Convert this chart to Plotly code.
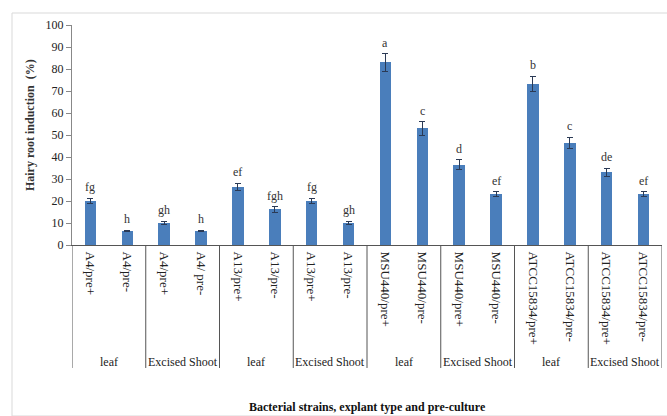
import plotly.graph_objects as go

# Treatments: strain / pre-culture, grouped by explant type
labels = ["A4/pre+", "A4/pre-", "A4/pre+", "A4/ pre-",
          "A13/pre+", "A13/pre-", "A13/pre+", "A13/pre-",
          "MSU440/pre+", "MSU440/pre-", "MSU440/pre+", "MSU440/pre-",
          "ATCC15834/pre+", "ATCC15834/pre-", "ATCC15834/pre+", "ATCC15834/pre-"]
explants = ["leaf", "Excised Shoot", "leaf", "Excised Shoot",
            "leaf", "Excised Shoot", "leaf", "Excised Shoot"]
induction = [20.0, 6.5, 10.0, 6.5, 26.5, 16.2, 20.0, 10.0,
             83.0, 53.0, 36.5, 23.2, 73.2, 46.5, 33.0, 23.2]
std_err = [1.2, 0.3, 0.8, 0.3, 1.5, 1.2, 1.2, 0.8,
           4.0, 3.0, 2.3, 1.0, 3.5, 2.5, 1.8, 1.0]
letters = ["fg", "h", "gh", "h", "ef", "fgh", "fg", "gh",
           "a", "c", "d", "ef", "b", "c", "de", "ef"]

x = list(range(len(labels)))
serif = "Liberation Serif, Times New Roman, serif"

fig = go.Figure(go.Bar(
    x=x, y=induction, width=0.31,
    marker=dict(color="#4a7ebb", line=dict(width=0)),
    error_y=dict(type="data", array=std_err, visible=True,
                 color="#2b3a55", thickness=1, width=3),
))

# significance letters above each bar
for xi, v, e, t in zip(x, induction, std_err, letters):
    fig.add_annotation(x=xi, y=v + e, text=t, showarrow=False,
                       yanchor="bottom", yshift=2,
                       font=dict(family=serif, size=12, color="#333333"))

# explant group dividers and labels under the tick labels
axis_bottom = -0.559
for k in range(len(explants) + 1):
    fig.add_shape(type="line", xref="x", yref="paper",
                  x0=-0.5 + 2 * k, x1=-0.5 + 2 * k, y0=0, y1=axis_bottom,
                  line=dict(color="#555555", width=1))
for k, name in enumerate(explants):
    fig.add_annotation(x=0.5 + 2 * k, y=axis_bottom, yref="paper",
                       text=name, showarrow=False, yanchor="bottom", yshift=-3,
                       font=dict(family=serif, size=12, color="#222222"))

# outer chart frame
fig.add_shape(type="rect", xref="paper", yref="paper",
              x0=-60 / 590, x1=1.03, y0=-171 / 220, y1=1.0545,
              line=dict(color="#d9d9d9", width=1), layer="below")

fig.add_annotation(xref="paper", yref="paper", x=0.5, y=-162 / 220,
                   text="<b>Bacterial strains, explant type and pre-culture</b>",
                   showarrow=False, yanchor="middle",
                   font=dict(family=serif, size=12, color="#111111"))

# y-axis title, placed beside the tick labels
fig.add_annotation(xref="paper", yref="paper", x=-42 / 590, y=0.545,
                   text="<b>Hairy root induction  (%)</b>", textangle=-90,
                   showarrow=False, xanchor="center", yanchor="middle",
                   font=dict(family=serif, size=12, color="#333333"))

fig.update_layout(
    width=667, height=416,
    margin=dict(l=72, r=5, t=25, b=171),
    paper_bgcolor="white", plot_bgcolor="white",
    showlegend=False, bargap=0,
    font=dict(family=serif, size=12, color="#222222"),
    xaxis=dict(range=[-0.5, 15.5], tickmode="array", tickvals=x,
               ticktext=labels, tickangle=90, showgrid=False,
               showline=True, linecolor="#555555", linewidth=1,
               ticks="", zeroline=False, ticklabelstandoff=3,
               tickfont=dict(family=serif, size=13, color="#222222")),
    yaxis=dict(range=[0, 100], dtick=10, showgrid=False,
               showline=True, linecolor="#888888", linewidth=1,
               ticks="outside", ticklen=5, tickcolor="#888888",
               zeroline=False,
               tickfont=dict(family=serif, size=12, color="#222222")),
)

fig.write_html("out.html")
